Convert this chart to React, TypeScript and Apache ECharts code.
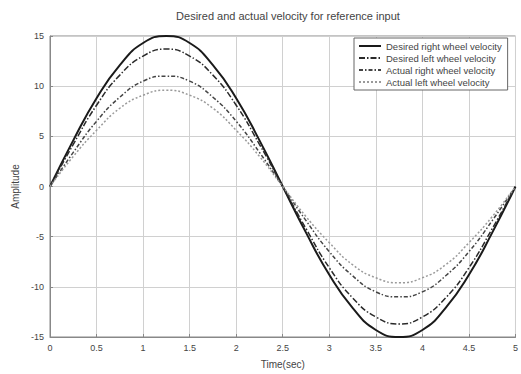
import React, { useEffect, useRef } from "react";
import * as echarts from "echarts";

const time = [0, 0.25, 0.5, 0.75, 1, 1.25, 1.5, 1.75, 2, 2.25, 2.5, 2.75, 3, 3.25, 3.5, 3.75, 4, 4.25, 4.5, 4.75, 5];
const desiredRight = [0, 4.6, 8.8, 12.1, 14.3, 15.0, 14.3, 12.1, 8.8, 4.6, 0, -4.6, -8.8, -12.1, -14.3, -15.0, -14.3, -12.1, -8.8, -4.6, 0];
const desiredLeft = [0, 4.2, 8.1, 11.1, 13.0, 13.7, 13.0, 11.1, 8.1, 4.2, 0, -4.2, -8.1, -11.1, -13.0, -13.7, -13.0, -11.1, -8.1, -4.2, 0];
const actualRight = [0, 3.4, 6.5, 8.9, 10.5, 11.0, 10.5, 8.9, 6.5, 3.4, 0, -3.4, -6.5, -8.9, -10.5, -11.0, -10.5, -8.9, -6.5, -3.4, 0];
const actualLeft = [0, 3.0, 5.6, 7.8, 9.1, 9.6, 9.1, 7.8, 5.6, 3.0, 0, -3.0, -5.6, -7.8, -9.1, -9.6, -9.1, -7.8, -5.6, -3.0, 0];
const seriesNames = [
  "Desired right wheel velocity",
  "Desired left wheel velocity",
  "Actual right wheel velocity",
  "Actual left wheel velocity",
];

const FONT = "Liberation Sans";

export default function App() {
  const ref = useRef<HTMLDivElement>(null);
  useEffect(() => {
    if (!ref.current) return;
    const chart = echarts.init(ref.current, null, { renderer: "svg" });
    const pair = (ys: number[]) => time.map((t, i) => [t, ys[i]]);
    const styles = [
      { color: "#1a1a1a", width: 2, type: "solid" as any },
      { color: "#2a2a2a", width: 1.5, type: [6, 2, 1.5, 2] as any },
      { color: "#444444", width: 1.5, type: [4, 2, 1.5, 2] as any },
      { color: "#9a9a9a", width: 1.5, type: [2, 2] as any },
    ];
    const datas = [desiredRight, desiredLeft, actualRight, actualLeft];
    chart.setOption({
      animation: false,
      backgroundColor: "#ffffff",
      textStyle: { fontFamily: FONT },
      title: {
        text: "Desired and actual velocity for reference input",
        left: 283,
        textAlign: "center",
        top: 5,
        textStyle: { fontSize: 11, fontWeight: "normal", color: "#444", fontFamily: FONT },
      },
      grid: {
        left: 50,
        right: 1,
        top: 36,
        bottom: 37,
        show: true,
        borderColor: "#888",
        borderWidth: 1,
      },
      legend: {
        orient: "vertical",
        left: 354,
        top: 38,
        width: 161,
        itemWidth: 22,
        itemHeight: 8,
        itemGap: 2,
        padding: [3, 6, 3, 4],
        borderColor: "#666",
        borderWidth: 1,
        backgroundColor: "#fff",
        itemStyle: { opacity: 0 },
        textStyle: { fontSize: 9.5, color: "#444", fontFamily: FONT },
        data: seriesNames,
      },
      xAxis: {
        type: "value",
        min: 0,
        max: 5,
        interval: 0.5,
        name: "Time(sec)",
        nameLocation: "middle",
        nameGap: 22,
        nameTextStyle: { fontSize: 10, color: "#444" },
        axisLine: { show: true, onZero: false, lineStyle: { color: "#888" } },
        axisTick: { show: true, inside: true, length: 3, lineStyle: { color: "#888" } },
        axisLabel: { fontSize: 9, color: "#444", margin: 6 },
        splitLine: { show: true, lineStyle: { color: "#d0d0d0", width: 1 } },
      },
      yAxis: {
        type: "value",
        min: -15,
        max: 15,
        interval: 5,
        name: "Amplitude",
        nameLocation: "middle",
        nameGap: 18,
        nameTextStyle: { fontSize: 10, color: "#444" },
        axisLine: { show: true, onZero: false, lineStyle: { color: "#888" } },
        axisTick: { show: true, inside: true, length: 3, lineStyle: { color: "#888" } },
        axisLabel: { fontSize: 9, color: "#444", margin: 6 },
        splitLine: { show: true, lineStyle: { color: "#d0d0d0", width: 1 } },
      },
      series: datas.map((d, i) => ({
        name: seriesNames[i],
        type: "line",
        data: pair(d),
        smooth: true,
        showSymbol: false,
        symbol: "none",
        lineStyle: styles[i],
        itemStyle: { color: styles[i].color },
      })),
    });
    return () => chart.dispose();
  }, []);
  return <div ref={ref} style={{ width: 521, height: 374, position: "absolute", left: 0, top: 0 }} />;
}
